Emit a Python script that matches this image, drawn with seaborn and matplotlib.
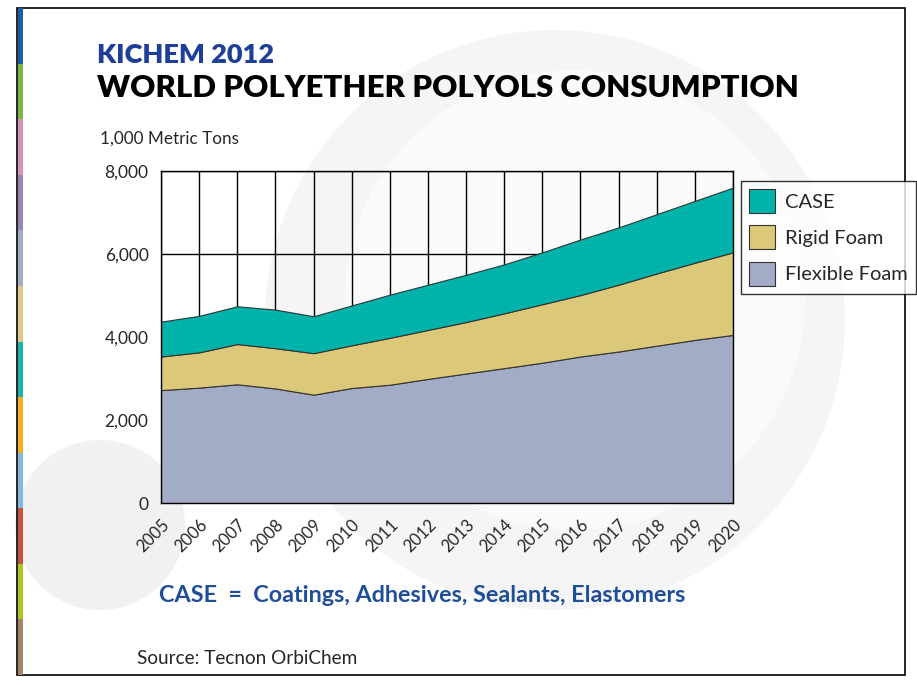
import numpy as np
import pandas as pd
import seaborn as sns
import matplotlib.pyplot as plt
from matplotlib.patches import Rectangle, Circle

years = list(range(2005, 2021))
flexible_foam = [2720, 2780, 2860, 2760, 2610, 2770, 2850, 2990, 3120, 3250, 3380, 3530, 3650, 3790, 3930, 4050]
rigid_foam = [810, 850, 970, 970, 1000, 1030, 1130, 1180, 1240, 1320, 1410, 1480, 1610, 1740, 1860, 1990]
case = [840, 880, 910, 930, 890, 960, 1040, 1090, 1140, 1180, 1250, 1340, 1380, 1430, 1490, 1560]
series_names = ['Flexible Foam', 'Rigid Foam', 'CASE']
colors = ['#A3ACC6', '#DBC878', '#00B3AA']
yticks = [0, 2000, 4000, 6000, 8000]
stripe_colors = ['#1B5FAA', '#7AB648', '#D991B5', '#9985B8', '#A5ADC4', '#DDC98A',
                 '#1AB3A8', '#F5B125', '#7FB9E6', '#C9523F', '#B0C425', '#A28567']

df = pd.DataFrame({'year': years, 'Flexible Foam': flexible_foam,
                   'Rigid Foam': rigid_foam, 'CASE': case})

sns.set_style('white')
plt.rcParams['font.family'] = ['Lato', 'DejaVu Sans']

W, H = 917, 685
fig = plt.figure(figsize=(W / 100, H / 100), dpi=100)

# background: frame, colour stripe, faint watermark circles
bg = fig.add_axes([0, 0, 1, 1])
bg.set_xlim(0, W)
bg.set_ylim(H, 0)
bg.axis('off')
bg.add_patch(Circle((555, 320), 290, facecolor='#f5f5f5', edgecolor='none'))
bg.add_patch(Circle((575, 300), 230, facecolor='#fafafa', edgecolor='none'))
bg.add_patch(Circle((100, 525), 85, facecolor='#f1f1f1', edgecolor='none'))
bg.add_patch(Rectangle((17, 8), 888, 667, fill=False, edgecolor='black', lw=1.2))
seg = 667 / len(stripe_colors)
for i, c in enumerate(stripe_colors):
    bg.add_patch(Rectangle((17.5, 8 + i * seg), 5, seg, facecolor=c, edgecolor='none'))

ax = fig.add_axes([161 / W, 1 - 503 / H, (733 - 161) / W, (503 - 171) / H])
ax.patch.set_alpha(0)

stacks = ax.stackplot(df['year'], [df[n] for n in series_names], colors=colors,
                      labels=series_names, edgecolor='#333333', linewidth=0.8, zorder=2)

ax.set_xlim(2005, 2020)
ax.set_ylim(0, 8000)
ax.set_xticks(years)
ax.set_xticklabels([str(y) for y in years], rotation=45, ha='right',
                   rotation_mode='anchor', fontsize=12)
ax.set_xticks(np.arange(2005.5, 2020, 1), minor=True)
ax.set_yticks(yticks)
ax.set_yticklabels([f'{v:,}' for v in yticks], fontsize=12.5)
ax.set_yticks(range(1000, 8000, 2000), minor=True)
ax.tick_params(axis='both', which='major', direction='out', length=6, width=1, color='black', pad=3)
ax.tick_params(axis='both', which='minor', direction='in', length=5, width=1, color='black')
ax.tick_params(axis='x', which='major', pad=4)
ax.grid(True, which='major', color='black', lw=1, zorder=0)
for s in ax.spines.values():
    s.set_color('black')
    s.set_linewidth(1)
ax.set_axisbelow(True)

handles, labels = ax.get_legend_handles_labels()
leg = fig.legend(handles[::-1], labels[::-1], loc='upper left',
                 bbox_to_anchor=(741 / W, 1 - 181 / H), frameon=True, fancybox=False,
                 edgecolor='black', fontsize=14.5, handlelength=1.3, handleheight=1.45,
                 borderpad=0.4, labelspacing=0.62, handletextpad=0.5, borderaxespad=0)
leg.get_frame().set_linewidth(1)
for p in leg.get_patches():
    p.set_edgecolor('#333333')

fig.text(97 / W, 1 - 55 / H, 'KICHEM 2012', color='#1F3E9A', fontsize=19.5,
         fontweight='heavy', va='center', ha='left')
fig.text(97 / W, 1 - 88 / H, 'WORLD POLYETHER POLYOLS CONSUMPTION', color='black',
         fontsize=22.4, fontweight='heavy', va='center', ha='left')
fig.text(100 / W, 1 - 139 / H, '1,000 Metric Tons', fontsize=12.3, va='center', ha='left')
fig.text(159 / W, 1 - 596 / H, 'CASE  =  Coatings, Adhesives, Sealants, Elastomers',
         color='#1F4E99', fontsize=16.8, fontweight='bold', va='center', ha='left')
fig.text(137 / W, 1 - 658 / H, 'Source: Tecnon OrbiChem', fontsize=13.7, va='center', ha='left')

fig.savefig('out.png', dpi=100)
